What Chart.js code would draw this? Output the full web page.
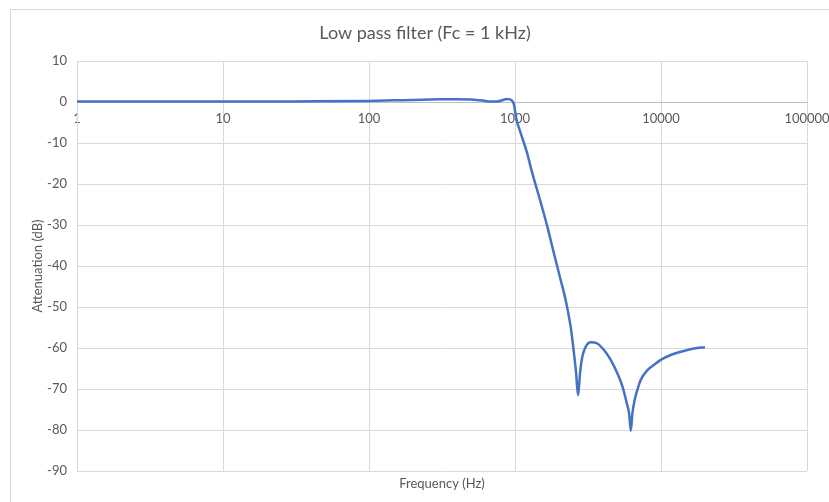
<!DOCTYPE html>
<html>
<head>
<meta charset="utf-8">
<script src="https://cdn.jsdelivr.net/npm/chart.js@4.4.0/dist/chart.umd.min.js"></script>
<style>
  html, body { margin: 0; padding: 0; background: #fff; overflow: hidden; }
  #wrap { position: relative; width: 829px; height: 502px; }
  #frame { position: absolute; left: 10px; top: 9px; width: 830px; height: 500px; border: 1px solid #d9d9d9; pointer-events: none; }
</style>
</head>
<body>
<div id="wrap">
  <canvas id="chart" width="829" height="502"></canvas>
  <div id="frame"></div>
</div>
<script>
// frequency in Hz, attenuation in dB
const freqs = [1, 3, 10, 30, 100, 150, 200, 300, 400, 500, 600, 680, 760, 830, 885, 950, 985, 1020,
    1092, 1200, 1315, 1500, 1665, 1850, 2055, 2223, 2405, 2535, 2620, 2703, 2750, 2788, 2893, 3048,
    3300, 3665, 4070, 4525, 5030, 5450, 5830, 6045, 6210, 6370, 6600, 6890, 7260, 8070, 8970, 9960,
    11660, 13670, 16880, 20000];
const attenuation = [0.1, 0.1, 0.1, 0.15, 0.25, 0.4, 0.5, 0.65, 0.7, 0.6, 0.35, 0.1, 0.15, 0.5, 0.75, 0.4, -0.7, -4,
    -7.5, -12, -17.4, -24.5, -30.4, -37, -43.4, -48.3, -54.8, -61.3, -66, -71.5, -69, -66.2, -62.1, -59.7,
    -58.6, -58.9, -60.5, -62.9, -66.2, -69.4, -73.5, -75.9, -80.2, -75.9, -72.7, -70.2, -67.8, -65.4, -64.1, -62.9,
    -61.7, -60.9, -60.1, -59.8];
const xTicks = [1, 10, 100, 1000, 10000, 100000];

const chartTitle = 'Low pass filter (Fc = 1 kHz)';
const xTitle = 'Frequency (Hz)';
const yTitle = 'Attenuation (dB)';

const textColor = '#595959';
const gridColor = '#d9d9d9';
const fontFamily = 'Lato, "Open Sans", sans-serif';

const points = freqs.map((f, i) => ({ x: f, y: attenuation[i] }));

// title above the frame and x title under the plot, like the excel layout
const labelsPlugin = {
    id: 'labels',
    afterDraw(chart) {
        const ctx = chart.ctx;
        const area = chart.chartArea;
        ctx.save();
        ctx.fillStyle = textColor;
        ctx.textAlign = 'center';
        ctx.textBaseline = 'middle';
        ctx.font = '18px ' + fontFamily;
        ctx.fillText(chartTitle, 425, 33);
        ctx.font = '13px ' + fontFamily;
        ctx.fillText(xTitle, (area.left + area.right) / 2, 484);
        ctx.restore();
    }
};

new Chart(document.getElementById('chart'), {
    type: 'line',
    data: {
        datasets: [{
            data: points,
            borderColor: '#4472c4',
            borderWidth: 2.5,
            pointRadius: 0,
            fill: false,
            cubicInterpolationMode: 'monotone'
        }]
    },
    options: {
        responsive: false,
        animation: false,
        devicePixelRatio: 1,
        layout: { padding: { left: 10, right: 22, top: 61, bottom: 31 } },
        plugins: {
            legend: { display: false },
            tooltip: { enabled: false }
        },
        scales: {
            x: {
                type: 'logarithmic',
                position: { y: 0 },
                min: 1,
                max: 100000,
                afterBuildTicks: scale => {
                    scale.ticks = xTicks.map(v => ({ value: v }));
                },
                afterFit: scale => {
                    scale.paddingLeft = 0;
                    scale.paddingRight = 0;
                },
                ticks: {
                    color: textColor,
                    font: { family: fontFamily, size: 13 },
                    padding: 9,
                    maxRotation: 0,
                    autoSkip: false,
                    callback: v => String(v)
                },
                grid: { color: gridColor, drawTicks: false },
                border: { color: '#bfbfbf', width: 1 }
            },
            y: {
                min: -90,
                max: 10,
                afterFit: scale => { scale.width = 67; },
                ticks: {
                    stepSize: 10,
                    color: textColor,
                    font: { family: fontFamily, size: 13 },
                    padding: 10
                },
                grid: { color: gridColor, drawTicks: false },
                border: { color: gridColor },
                title: {
                    display: true,
                    text: yTitle,
                    color: textColor,
                    font: { family: fontFamily, size: 13 },
                    padding: { top: 20, bottom: 0 }
                }
            }
        }
    },
    plugins: [labelsPlugin]
});
</script>
</body>
</html>
